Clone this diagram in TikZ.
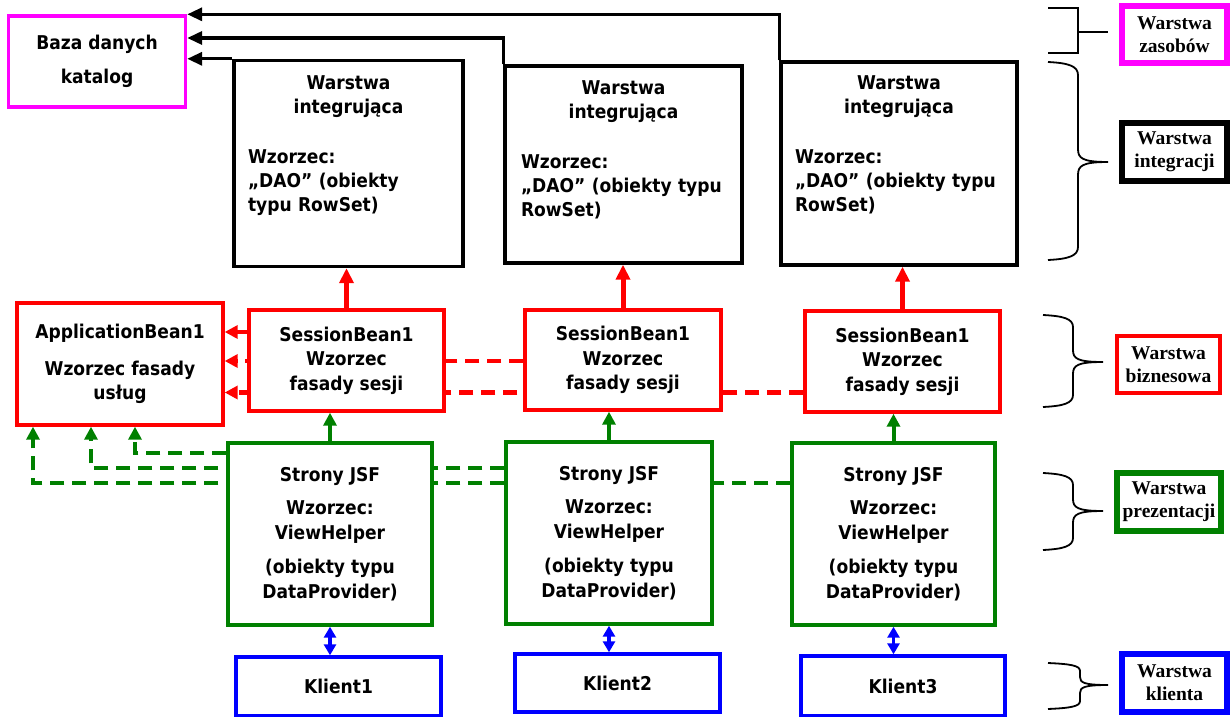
\documentclass[tikz,border=0pt]{standalone}
\usepackage{fontspec}
\newfontfamily\boxfont[FakeStretch=0.9]{DejaVu Sans}
\newfontfamily\labfont{Liberation Serif}
\usetikzlibrary{positioning, arrows.meta, calc, backgrounds}

\definecolor{zielony}{RGB}{0,128,0}
\definecolor{rozowy}{RGB}{255,0,255}

\begin{document}
\begin{tikzpicture}[
    x=1pt, y=-1pt,
    box/.style={draw, line width=3.4pt, fill=white, inner sep=0pt, align=center,
                font=\boxfont\bfseries\fontsize{19}{24.5}\selectfont},
    wh/.style 2 args={minimum width=#1, minimum height=#2},
    txt/.style={inner sep=0pt, anchor=north, font=\boxfont\bfseries\fontsize{19}{24}\selectfont},
    tag/.style={draw, line width=5.5pt, fill=white, inner sep=0pt, align=center,
                minimum width=105pt, minimum height=57pt,
                font=\labfont\bfseries\fontsize{19.5}{23}\selectfont},
    blk/.style={-{Triangle[length=15pt, width=13pt]}, line width=3.4pt},
    rarr/.style={-{Triangle[length=15pt, width=14pt]}, line width=5pt, red},
    rdash/.style={-{Triangle[length=13pt, width=13pt]}, line width=4.5pt, red, dash pattern=on 14pt off 8pt},
    garr/.style={-{Triangle[length=13pt, width=13pt]}, line width=4pt, zielony},
    gdash/.style={-{Triangle[length=13pt, width=13pt]}, line width=4.5pt, zielony, dash pattern=on 14pt off 8pt},
    barr/.style={{Triangle[length=11pt, width=12pt]}-{Triangle[length=11pt, width=12pt]}, line width=3.6pt, blue},
    klamra/.style={line width=1.8pt}
]
\useasboundingbox (0,0) rectangle (1231,717);

% --- Warstwa zasobow ---
\node[box, draw=rozowy, wh={177pt}{91pt}] (baza) at (97,61.5) {Baza danych\\[9pt]katalog};

% --- Warstwa integracji ---
\node[box, wh={229pt}{206pt}] (int1) at (348.5,163.5) {};
\node[box, wh={237pt}{197pt}] (int2) at (623.5,164.5) {};
\node[box, wh={236pt}{203pt}] (int3) at (899,163.5) {};

\node[txt, text width=201pt] (int1t) at ([yshift=-17pt]int1.north)
    {\centering Warstwa\\integrująca\par\vspace{26pt}\raggedright Wzorzec:\\„DAO” (obiekty\\typu RowSet)\par};
\node[txt, text width=205pt] (int2t) at ([yshift=-16pt]int2.north)
    {\centering Warstwa\\integrująca\par\vspace{26pt}\raggedright Wzorzec:\\„DAO” (obiekty typu\\RowSet)\par};
\node[txt, text width=208pt] (int3t) at ([yshift=-15pt]int3.north)
    {\centering Warstwa\\integrująca\par\vspace{26pt}\raggedright Wzorzec:\\„DAO” (obiekty typu\\RowSet)\par};

\draw[blk] (int3.north west) |- (baza.north east);
\coordinate (bz2) at ($(baza.east)+(0,-23.5)$);
\draw[blk] (int2.north west) |- (bz2);
\draw[blk] (int1.north west) -- (int1.north west -| baza.east);

% --- Warstwa biznesowa ---
\node[box, draw=red, wh={206pt}{122pt}] (app) at (120,364) {ApplicationBean1\\[12pt]Wzorzec fasady\\usług};
\node[box, draw=red, wh={195pt}{101pt}] (sb1) at (346.5,360.5) {SessionBean1\\Wzorzec\\fasady sesji};
\node[box, draw=red, wh={196pt}{100pt}] (sb2) at (623,360) {SessionBean1\\Wzorzec\\fasady sesji};
\node[box, draw=red, wh={195pt}{101pt}] (sb3) at (902.5,361.5) {SessionBean1\\Wzorzec\\fasady sesji};

\draw[rarr] (sb1.north) -- (sb1.north |- int1.south);
\draw[rarr] (sb2.north) -- (sb2.north |- int2.south);
\draw[rarr] (sb3.north) -- (sb3.north |- int3.south);

\coordinate (r1) at ($(sb1.west)+(0,-28.5)$);
\coordinate (r2) at ($(sb2.west)+(0,1)$);
\coordinate (r3) at ($(sb3.west)+(0,31)$);
\draw[rdash] (r1) -- (r1 -| app.east);

% --- Warstwa prezentacji ---
\node[box, draw=zielony, wh={204pt}{182pt}] (j1) at (330,534)
    {Strony JSF\\[9pt]Wzorzec:\\ViewHelper\\[10pt](obiekty typu\\DataProvider)};
\node[box, draw=zielony, wh={206pt}{182pt}] (j2) at (609,533)
    {Strony JSF\\[9pt]Wzorzec:\\ViewHelper\\[10pt](obiekty typu\\DataProvider)};
\node[box, draw=zielony, wh={203pt}{182pt}] (j3) at (893.5,534)
    {Strony JSF\\[9pt]Wzorzec:\\ViewHelper\\[10pt](obiekty typu\\DataProvider)};

\draw[garr] (j1.north) -- (j1.north |- sb1.south);
\draw[garr] (j2.north) -- (j2.north |- sb2.south);
\draw[garr] (j3.north) -- (j3.north |- sb3.south);

\coordinate (g1) at ($(j1.west)+(0,-81)$);
\coordinate (g2) at ($(j2.west)+(0,-65)$);
\coordinate (g3) at ($(j3.west)+(0,-51)$);

% dashed lines running behind the boxes
\begin{scope}[on background layer]
\draw[rdash] (r2) -- (r2 -| app.east);
\draw[rdash] (r3) -- (r3 -| app.east);
\draw[gdash] (g1) -| ($(app.south)+(15,0)$);
\draw[gdash] (g2) -| ($(app.south)+(-29,0)$);
\draw[gdash] (g3) -| ($(app.south)+(-87,0)$);
\end{scope}

% --- Warstwa klienta ---
\node[box, draw=blue, wh={205pt}{59pt}] (k1) at (338.5,686.5) {Klient1};
\node[box, draw=blue, wh={205pt}{58pt}] (k2) at (617.5,683) {Klient2};
\node[box, draw=blue, wh={204pt}{60pt}] (k3) at (903,686) {Klient3};

\draw[barr] (j1.south) -- (j1.south |- k1.north);
\draw[barr] (j2.south) -- (j2.south |- k2.north);
\draw[barr] (j3.south) -- (j3.south |- k3.north);

% --- legenda warstw ---
\node[tag, draw=rozowy] (tzas) at (1174.5,34.5) {Warstwa\\zasobów};
\node[tag, draw=black, minimum height=58pt] (tint) at (1174.5,152) {Warstwa\\integracji};
\node[tag, draw=red, line width=3.4pt, minimum width=103pt] (tbiz) at (1168.5,364.5) {Warstwa\\biznesowa};
\node[tag, draw=zielony, minimum width=104pt, minimum height=58pt] (tprez) at (1169,502) {Warstwa\\prezentacji};
\node[tag, draw=blue, minimum height=58pt] (tkli) at (1174.5,683) {Warstwa\\klienta};

\draw[klamra] (1048,8) -| (1078,53) -- (1048,53);
\draw[klamra] (1078,32) -- (1108,32);
\foreach \xa/\xb/\xc/\ya/\ym/\yb/\kr in {1048/1078/1108/62/162/260/13,
        1043/1073/1103/315/362/407/12, 1043/1073/1103/473/511/550/12,
        1048/1080/1108/663/685/709/8}
  \draw[klamra] (\xa,\ya) .. controls (\xb-10,\ya+1) and (\xb,\ya+0.3*\kr) .. (\xb,\ya+\kr)
      -- (\xb,\ym-\kr) .. controls (\xb,\ym-0.3*\kr) and (\xb+4,\ym) .. (\xc,\ym)
      .. controls (\xb+4,\ym) and (\xb,\ym+0.3*\kr) .. (\xb,\ym+\kr)
      -- (\xb,\yb-\kr) .. controls (\xb,\yb-0.3*\kr) and (\xb-10,\yb-1) .. (\xa,\yb);

\end{tikzpicture}
\end{document}
